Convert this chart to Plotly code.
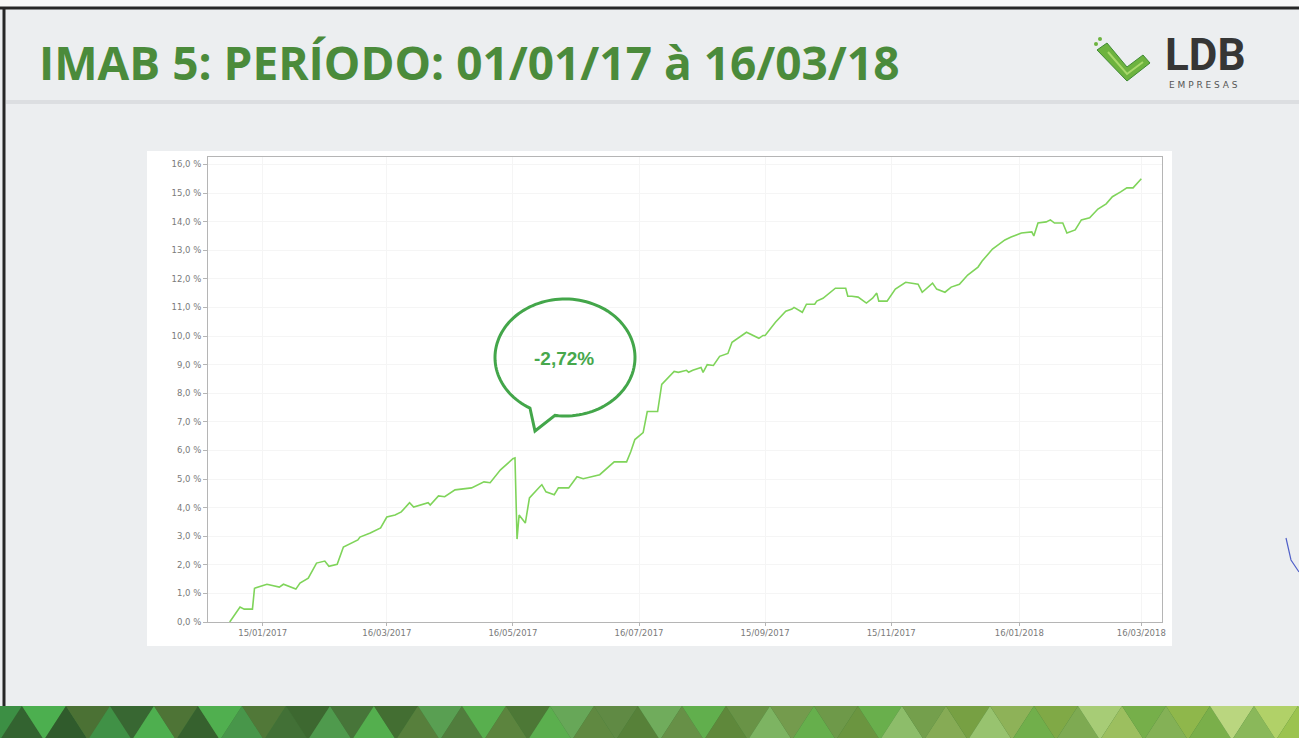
import plotly.graph_objects as go
import numpy as np

# ---------------- data ----------------
dates = [
    "2016-12-30", "2017-01-04", "2017-01-06", "2017-01-10", "2017-01-11", "2017-01-17",
    "2017-01-23", "2017-01-25", "2017-01-31", "2017-02-02", "2017-02-06", "2017-02-10",
    "2017-02-14", "2017-02-16", "2017-02-20", "2017-02-23", "2017-03-02", "2017-03-03",
    "2017-03-08", "2017-03-13", "2017-03-16", "2017-03-20", "2017-03-23", "2017-03-27",
    "2017-03-29", "2017-04-05", "2017-04-06", "2017-04-10", "2017-04-13", "2017-04-18",
    "2017-04-26", "2017-05-02", "2017-05-05", "2017-05-10", "2017-05-16", "2017-05-17",
    "2017-05-18", "2017-05-19", "2017-05-22", "2017-05-24", "2017-05-29", "2017-05-30",
    "2017-06-01", "2017-06-05", "2017-06-07", "2017-06-12", "2017-06-16", "2017-06-19",
    "2017-06-27", "2017-07-04", "2017-07-10", "2017-07-12", "2017-07-14", "2017-07-18",
    "2017-07-20", "2017-07-25", "2017-07-27", "2017-08-02", "2017-08-04", "2017-08-08",
    "2017-08-09", "2017-08-11", "2017-08-15", "2017-08-16", "2017-08-18", "2017-08-21",
    "2017-08-24", "2017-08-28", "2017-08-30", "2017-09-01", "2017-09-06", "2017-09-12",
    "2017-09-14", "2017-09-15", "2017-09-20", "2017-09-25", "2017-09-28", "2017-09-29",
    "2017-10-03", "2017-10-05", "2017-10-09", "2017-10-10", "2017-10-13", "2017-10-19",
    "2017-10-24", "2017-10-25", "2017-10-27", "2017-10-30", "2017-11-03", "2017-11-06",
    "2017-11-08", "2017-11-09", "2017-11-13", "2017-11-17", "2017-11-22", "2017-11-28",
    "2017-11-30", "2017-12-05", "2017-12-07", "2017-12-11", "2017-12-14", "2017-12-18",
    "2017-12-20", "2017-12-22", "2017-12-27", "2017-12-29", "2018-01-03", "2018-01-05",
    "2018-01-09", "2018-01-12", "2018-01-17", "2018-01-22", "2018-01-23", "2018-01-25",
    "2018-01-29", "2018-01-31", "2018-02-02", "2018-02-06", "2018-02-08", "2018-02-12",
    "2018-02-15", "2018-02-19", "2018-02-23", "2018-02-27", "2018-03-02", "2018-03-06",
    "2018-03-09", "2018-03-12", "2018-03-16",
]
imab5_pct = [
    0.00, 0.52, 0.45, 0.45, 1.18, 1.32,
    1.22, 1.32, 1.15, 1.36, 1.53, 2.06,
    2.13, 1.95, 2.02, 2.62, 2.87, 2.97,
    3.11, 3.29, 3.67, 3.74, 3.85, 4.17,
    4.02, 4.17, 4.09, 4.41, 4.38, 4.62,
    4.69, 4.90, 4.87, 5.32, 5.71, 5.74,
    2.90, 3.74, 3.46, 4.34, 4.73, 4.80,
    4.55, 4.45, 4.69, 4.69, 5.08, 5.01,
    5.15, 5.60, 5.60, 5.95, 6.38, 6.62,
    7.36, 7.36, 8.31, 8.76, 8.73, 8.80,
    8.73, 8.80, 8.90, 8.73, 9.00, 8.97,
    9.29, 9.39, 9.78, 9.88, 10.13, 9.92,
    10.02, 10.02, 10.48, 10.87, 10.94, 11.00,
    10.83, 11.11, 11.11, 11.22, 11.32, 11.67,
    11.67, 11.39, 11.39, 11.36, 11.15, 11.32,
    11.50, 11.22, 11.22, 11.64, 11.88, 11.81,
    11.53, 11.85, 11.64, 11.53, 11.71, 11.81,
    11.99, 12.13, 12.41, 12.62, 13.04, 13.15,
    13.36, 13.46, 13.60, 13.64, 13.50, 13.95,
    13.99, 14.06, 13.95, 13.95, 13.60, 13.71,
    14.06, 14.13, 14.44, 14.62, 14.87, 15.04,
    15.18, 15.18, 15.50,
]

x_tick_dates = ["2017-01-15", "2017-03-16", "2017-05-16", "2017-07-16",
                "2017-09-15", "2017-11-15", "2018-01-16", "2018-03-16"]
x_tick_labels = ["15/01/2017", "16/03/2017", "16/05/2017", "16/07/2017",
                 "15/09/2017", "15/11/2017", "16/01/2018", "16/03/2018"]
y_tick_vals = list(range(0, 17))
y_tick_labels = [f"{v},0 %" for v in y_tick_vals]

title_text = "IMAB 5: PERÍODO: 01/01/17 à 16/03/18"
bubble_text = "-2,72%"

# ---------------- layout geometry (pixels) ----------------
FW, FH = 1299, 738
L, T, R, B = 208, 157, 1162, 622
W, H = R - L, B - T


def px(x):
    return (x - L) / W


def py(y):
    return (B - y) / H


def path_from(points, close=True):
    s = "M " + " L ".join(f"{px(a):.5f},{py(b):.5f}" for a, b in points)
    return s + (" Z" if close else "")


fig = go.Figure()
fig.add_trace(go.Scatter(
    x=dates, y=imab5_pct, mode="lines",
    line=dict(color="#7fd45a", width=1.6),
    hoverinfo="x+y", showlegend=False,
))

shapes = []
# white chart card
shapes.append(dict(type="rect", xref="paper", yref="paper",
                   x0=px(147), x1=px(1172), y0=py(646), y1=py(151),
                   fillcolor="#ffffff", line=dict(width=0), layer="below"))
# slide borders
shapes.append(dict(type="rect", xref="paper", yref="paper",
                   x0=px(0), x1=px(1299), y0=py(7), y1=py(0),
                   fillcolor="#f7f7f7", line=dict(width=0)))
shapes.append(dict(type="line", xref="paper", yref="paper",
                   x0=px(0), x1=px(1299), y0=py(8), y1=py(8),
                   line=dict(color="#262626", width=3)))
shapes.append(dict(type="line", xref="paper", yref="paper",
                   x0=px(4), x1=px(4), y0=py(8), y1=py(706),
                   line=dict(color="#262626", width=3)))
# faint band under title
shapes.append(dict(type="line", xref="paper", yref="paper",
                   x0=px(6), x1=px(1299), y0=py(102), y1=py(102),
                   line=dict(color="#dcdee1", width=4)))

# speech bubble
cx, cy, rx, ry = 565, 357.5, 70, 58.5
ts = np.radians(np.linspace(120, 458.2, 120))
pts = [(cx + rx * np.cos(t), cy + ry * np.sin(t)) for t in ts]
pts.append((535, 431))
shapes.append(dict(type="path", xref="paper", yref="paper",
                   path=path_from(pts), fillcolor="rgba(255,255,255,0)",
                   line=dict(color="#43a64a", width=3)))

# bottom triangle strip
top_y, bot_y = 706, 740
left_cols = [(0x2f, 0x5a, 0x2c), (0x3c, 0x8f, 0x44), (0x4c, 0xaf, 0x50), (0x33, 0x63, 0x30), (0x4a, 0x70, 0x34)]
right_cols = [(0x9c, 0xc4, 0x50), (0xc4, 0xdc, 0x84), (0x7f, 0xb0, 0x4a), (0xb5, 0xd4, 0x6a), (0x8e, 0xbc, 0x5c)]
seq = [0, 1, 3, 2, 0, 4, 1, 3, 2, 4, 0, 2, 1, 4, 3]
shapes.append(dict(type="rect", xref="paper", yref="paper",
                   x0=px(0), x1=px(1299), y0=py(bot_y), y1=py(top_y),
                   fillcolor="#3f7a3a", line=dict(width=0)))
w = 44
i = 0
xs = -w
while xs < FW + w:
    for kind in (0, 1):
        if kind == 0:
            tri = [(xs, bot_y), (xs + w, bot_y), (xs + w / 2, top_y)]
            xm = xs + w / 2
        else:
            tri = [(xs + w / 2, top_y), (xs + 1.5 * w, top_y), (xs + w, bot_y)]
            xm = xs + w
        f = min(max(xm / FW, 0), 1) ** 1.4
        j = seq[i % len(seq)]
        c = tuple(int(a + (b - a) * f) for a, b in zip(left_cols[j], right_cols[j]))
        shapes.append(dict(type="path", xref="paper", yref="paper",
                           path=path_from(tri), fillcolor="rgb(%d,%d,%d)" % c,
                           line=dict(width=0)))
        i += 1
    xs += w

# logo icon (check shape)
icon = [(1097, 50), (1107, 43), (1127, 67), (1143, 55), (1150, 63), (1127, 81)]
shapes.append(dict(type="path", xref="paper", yref="paper",
                   path=path_from(icon), fillcolor="#6db33f", line=dict(color="#3f8a35", width=1)))
inner = [(1108, 52), (1127, 74), (1143, 62)]
shapes.append(dict(type="path", xref="paper", yref="paper",
                   path=path_from(inner, close=False), line=dict(color="#a8d86a", width=2)))
for (dx, dy) in [(1100, 39), (1096, 44)]:
    shapes.append(dict(type="circle", xref="paper", yref="paper",
                       x0=px(dx - 2), x1=px(dx + 2), y0=py(dy + 2), y1=py(dy - 2),
                       fillcolor="#6db33f", line=dict(width=0)))
# pen mark at right edge
shapes.append(dict(type="path", xref="paper", yref="paper",
                   path=path_from([(1286, 538), (1291, 560), (1299, 572)], close=False),
                   line=dict(color="#5060c8", width=1.2)))

annotations = [
    dict(text=title_text, xref="paper", yref="paper", x=px(37), y=py(62),
         xanchor="left", yanchor="middle", showarrow=False,
         font=dict(family="Open Sans", size=46, color="#4b8b3b", weight="bold")),
    dict(text="LDB", xref="paper", yref="paper", x=px(1205), y=py(55),
         xanchor="center", yanchor="middle", showarrow=False,
         font=dict(family="Roboto", size=44, color="#363636", weight="bold")),
    dict(text="E M P R E S A S", xref="paper", yref="paper", x=px(1203), y=py(85),
         xanchor="center", yanchor="middle", showarrow=False,
         font=dict(family="DejaVu Sans", size=9, color="#555555")),
    dict(text=bubble_text, xref="paper", yref="paper", x=px(564), y=py(358),
         xanchor="center", yanchor="middle", showarrow=False,
         font=dict(family="Liberation Sans", size=19, color="#47a84c", weight="bold")),
]

fig.update_layout(
    width=FW, height=FH,
    margin=dict(l=L, r=FW - R, t=T, b=FH - B, pad=0),
    paper_bgcolor="#eceef0",
    plot_bgcolor="#ffffff",
    shapes=shapes,
    annotations=annotations,
    showlegend=False,
    xaxis=dict(
        type="date", range=["2016-12-19 12:00", "2018-03-26"],
        tickmode="array", tickvals=x_tick_dates, ticktext=x_tick_labels,
        tickfont=dict(family="DejaVu Sans", size=8.5, color="#7a7a7a"),
        showgrid=True, gridcolor="#f5f5f5", gridwidth=1,
        showline=True, linecolor="#b5b5b5", linewidth=1, mirror=True,
        ticks="outside", ticklen=3, tickcolor="#b5b5b5",
        zeroline=False, fixedrange=True,
    ),
    yaxis=dict(
        range=[0, H / 28.6],
        tickmode="array", tickvals=y_tick_vals, ticktext=y_tick_labels,
        tickfont=dict(family="DejaVu Sans", size=8.5, color="#7a7a7a"),
        showgrid=True, gridcolor="#f5f5f5", gridwidth=1,
        showline=True, linecolor="#b5b5b5", linewidth=1, mirror=True,
        ticks="outside", ticklen=4, tickcolor="#b5b5b5",
        zeroline=False, fixedrange=True,
    ),
)

fig.write_html(
    "out.html",
    config={"displayModeBar": False},
    post_script="document.body.style.margin='0';document.body.style.padding='0';"
                "document.body.style.overflow='hidden';",
)
